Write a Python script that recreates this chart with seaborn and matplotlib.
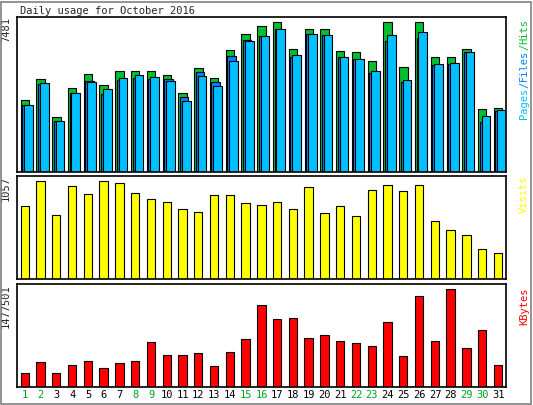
import numpy as np
import matplotlib
matplotlib.use("Agg")
import matplotlib.pyplot as plt
import seaborn as sns
import pandas as pd

days = list(range(1, 32))
weekend = [1, 2, 8, 9, 15, 16, 22, 23, 29, 30]
hits = [3612, 4643, 2752, 4179, 4919, 4334, 5056, 5056, 5056, 4850, 3973, 5211, 4695, 6088, 6914, 7326,
        7481, 6140, 7172, 7172, 6036, 5985, 5572, 7481, 5263, 7481, 5727, 5727, 6140, 3147, 3199]
files = [3354, 4403, 2528, 3973, 4540, 3921, 4592, 4695, 4643, 4643, 3766, 5005, 4489, 5779, 6604, 6810,
         7172, 5727, 6914, 6862, 5727, 5675, 4953, 6552, 4489, 6707, 5366, 5418, 5985, 2477, 3044]
pages = [3354, 4437, 2528, 3973, 4489, 4128, 4695, 4850, 4747, 4540, 3560, 4798, 4282, 5572, 6552, 6810,
         7172, 5830, 6914, 6862, 5727, 5675, 5056, 6862, 4592, 7017, 5418, 5469, 5985, 2786, 3096]
visits = [791, 1057, 691, 1002, 913, 1057, 1035, 924, 869, 835, 758, 724, 902, 902, 824, 802,
          835, 758, 990, 713, 791, 680, 957, 1013, 946, 1013, 625, 525, 480, 325, 281]
kbytes = [217700, 373000, 218000, 327000, 389000, 280000, 358000, 389000, 684000, 482000, 482000, 513000,
          311000, 529000, 731000, 1244000, 1026000, 1042000, 746000, 778000, 700000, 669000, 622000,
          980000, 467000, 1369000, 700000, 1477501, 591000, 855000, 327000]

mono = "DejaVu Sans Mono"
sns.set_style("white")
plt.rcParams['font.family'] = [mono]

W, H = 533, 405
fig = plt.figure(figsize=(W / 100, H / 100), dpi=100)
fig.patch.set_facecolor("white")
# outer frame
fig.add_artist(plt.Rectangle((1 / W, 1 / H), 1 - 3 / W, 1 - 3 / H, transform=fig.transFigure,
                             fill=False, ec="#808080", lw=1.2))

def ax_at(x0, y0, x1, y1):
    return fig.add_axes([x0 / W, 1 - y1 / H, (x1 - x0) / W, (y1 - y0) / H])

ax1 = ax_at(17, 17, 506, 172)
ax2 = ax_at(17, 176, 506, 279)
ax3 = ax_at(17, 284, 506, 387)

x = np.array(days, dtype=float)
ec = dict(edgecolor="black", linewidth=0.8)
ax1.bar(x - 0.27, hits, width=0.53, align="edge", color="#00C030", **ec)
ax1.bar(x - 0.17, files, width=0.53, align="edge", color="#0080FF", **ec)
ax1.bar(x - 0.05, pages, width=0.55, align="edge", color="#00C0FF", **ec)
ax1.set_ylim(0, 7481 / 0.965)

df = pd.DataFrame({"day": x - 0.005, "visits": visits, "kbytes": kbytes})
for ax, col, color, top in [(ax2, "visits", "#FFFF00", 1057), (ax3, "kbytes", "#FF0000", 1477501)]:
    ax.bar(df["day"] - 0.27, df[col], width=0.53, align="edge", color=color, **ec)
    ax.set_ylim(0, top / 0.95)

for ax in (ax1, ax2, ax3):
    ax.set_xlim(0.5, 31.5)
    ax.set_xticks([])
    ax.set_yticks([])
    ax.set_facecolor("white")
    for s in ax.spines.values():
        s.set_color("black")
        s.set_linewidth(1.2)
    sns.despine(ax=ax, top=False, right=False, left=False, bottom=False)

fig.text(20 / W, 1 - 11 / H, "Daily usage for October 2016", fontsize=7.5, va="center", ha="left", family=mono)

for ax, lab in [(ax1, "7481"), (ax2, "1057"), (ax3, "1477501")]:
    ax.text(-0.012, 1.0, lab, transform=ax.transAxes, rotation=90, ha="right", va="top", fontsize=7.5, family=mono)

# right-side legends (vertical, read bottom to top)
def vlabel(pieces, y_bottom_px):
    y = y_bottom_px
    fs = 7.5
    step = fs * 0.602 * 100 / 72
    for txt, c in pieces:
        fig.text(524 / W, 1 - y / H, txt, rotation=90, color=c, fontsize=fs, family=mono,
                 ha="center", va="bottom")
        y -= step * len(txt)

vlabel([("Pages", "#00C0FF"), ("/", "#0080FF"), ("Files", "#0080FF"), ("/", "#00C030"), ("Hits", "#00C030")], 119)
vlabel([("Visits", "#FFFF00")], 213)
vlabel([("KBytes", "#FF0000")], 325)

for d in days:
    xf = (17 + (d - 0.5 - 0.5) / 31 * 489 + 489 / 31 * 0.5) / W
    fig.text(xf, 1 - 395 / H, str(d), ha="center", va="center", fontsize=7.5, family=mono,
             color="#00A020" if d in weekend else "black")

fig.savefig("out.png", dpi=100)
